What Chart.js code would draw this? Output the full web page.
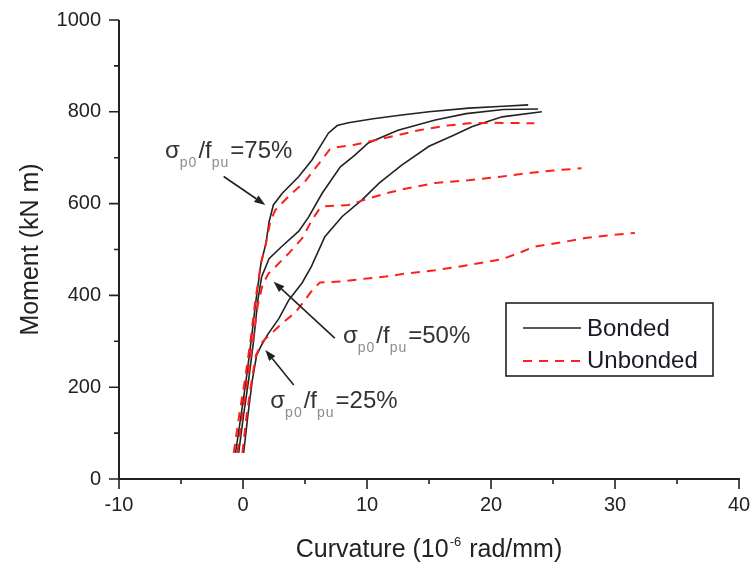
<!DOCTYPE html>
<html>
<head>
<meta charset="utf-8">
<script src="https://cdn.jsdelivr.net/npm/chart.js@4/dist/chart.umd.min.js"></script>
<style>
  html, body { margin: 0; padding: 0; background: #ffffff; }
  #wrap { width: 750px; height: 563px; }
</style>
</head>
<body>
<div id="wrap"><canvas id="c" width="750" height="563"></canvas></div>
<script>
// Moment-curvature response for three prestress levels (sigma_p0 / f_pu)
const curvBonded75 = [-0.6, -0.15, 0.25, 0.65, 1.05, 1.45, 1.85, 2.1, 2.45, 3.15, 4.5, 5.56, 6.3, 6.9, 7.6, 8.5, 10.5, 12.8, 15, 18.2, 21, 23];
const momBonded75  = [57, 140, 215, 300, 390, 470, 513, 560, 597, 622, 659, 695, 728, 754, 770, 776, 785, 793, 800, 808, 812, 815];

const curvBonded50 = [-0.35, 0.05, 0.45, 0.85, 1.2, 1.5, 2.1, 3.1, 4.5, 5.3, 6.37, 7.85, 9.0, 10.1, 12.5, 15.5, 18, 21, 23.8];
const momBonded50  = [57, 140, 215, 300, 390, 440, 480, 506, 540, 571, 622, 680, 705, 732, 760, 782, 796, 805, 806];

const curvBonded25 = [0.05, 0.4, 0.75, 1.1, 1.5, 2.0, 2.9, 3.7, 4.76, 5.5, 6.6, 8.0, 9.6, 11, 12.8, 15, 16.9, 18.5, 20.9, 24.1];
const momBonded25  = [57, 140, 215, 270, 292, 315, 350, 390, 427, 462, 528, 572, 608, 645, 684, 725, 748, 768, 789, 800];

const curvUnbonded75 = [-0.75, -0.3, 0.15, 0.6, 1.0, 1.45, 1.85, 2.2, 2.6, 3.8, 5.0, 6.2, 7.0, 7.4, 9.0, 11, 14.2, 16.5, 18.2, 20, 23.5];
const momUnbonded75  = [57, 140, 215, 300, 390, 470, 513, 560, 586, 619, 648, 690, 718, 722, 728, 740, 760, 770, 775, 776, 775];

const curvUnbonded50 = [-0.45, -0.05, 0.35, 0.8, 1.2, 1.6, 2.07, 2.6, 3.7, 4.76, 5.56, 6.2, 6.6, 8.5, 10, 11.5, 13, 15.5, 18.2, 20.9, 22.8, 25, 27.3];
const momUnbonded50  = [57, 140, 215, 300, 380, 425, 448, 462, 492, 524, 564, 590, 594, 597, 610, 622, 632, 645, 651, 659, 666, 672, 677];

const curvUnbonded25 = [-0.05, 0.3, 0.7, 1.05, 1.6, 2.6, 3.4, 4.2, 5.0, 5.6, 6.2, 8.2, 10, 11.5, 13, 15.5, 18.2, 20.9, 22.5, 23.5, 26, 27.6, 29.5, 31.6];
const momUnbonded25  = [57, 140, 215, 270, 300, 325, 345, 362, 390, 412, 428, 431, 437, 441, 447, 455, 466, 479, 495, 506, 517, 525, 531, 536];

// Axis ranges and tick values
const xMin = -10, xMax = 40, xStep = 10, xMinorTicks = [-5, 5, 15, 25, 35];
const yMin = 0, yMax = 1000, yStep = 200, yMinorTicks = [100, 300, 500, 700, 900];

const seriesNames = ['Bonded', 'Unbonded'];
const ratioLabels = ['75', '50', '25'];
// Label anchors (curvature, moment) and arrow start / tip for each prestress ratio
const labelAnchorCurv = [-6.29, 8.06, 2.2];
const labelAnchorMom  = [699, 296, 155];
const arrowFromCurv = [-1.56, 7.4, 4.09];
const arrowFromMom  = [659, 307, 205];
const arrowToCurv   = [1.8, 2.47, 1.8];
const arrowToMom    = [597, 430, 281];

const INK = '#222222';
const RED = '#ff1e1e';
const FONT = '"Liberation Sans", Arial, sans-serif';

function pairs(xs, ys) { return xs.map((x, i) => ({ x: x, y: ys[i] })); }

function bondedSet(xs, ys) {
  return { data: pairs(xs, ys), showLine: true, borderColor: INK, borderWidth: 1.6,
           pointRadius: 0, tension: 0, fill: false, order: 2 };
}
function unbondedSet(xs, ys) {
  return { data: pairs(xs, ys), showLine: true, borderColor: RED, borderWidth: 2,
           borderDash: [9, 7], pointRadius: 0, tension: 0, fill: false, order: 1 };
}

function drawArrow(ctx, x1, y1, x2, y2) {
  const ang = Math.atan2(y2 - y1, x2 - x1);
  const L = 11, W = 4;
  ctx.save();
  ctx.strokeStyle = INK; ctx.fillStyle = INK; ctx.lineWidth = 1.6;
  ctx.beginPath();
  ctx.moveTo(x1, y1);
  ctx.lineTo(x2 - L * Math.cos(ang), y2 - L * Math.sin(ang));
  ctx.stroke();
  ctx.beginPath();
  ctx.moveTo(x2, y2);
  ctx.lineTo(x2 - L * Math.cos(ang) + W * Math.sin(ang), y2 - L * Math.sin(ang) - W * Math.cos(ang));
  ctx.lineTo(x2 - L * Math.cos(ang) - W * Math.sin(ang), y2 - L * Math.sin(ang) + W * Math.cos(ang));
  ctx.closePath();
  ctx.fill();
  ctx.restore();
}

function drawRatioText(ctx, x, y, pct) {
  const parts = [
    ['\u03C3', false], ['p0', true], ['/f', false], ['pu', true], ['=' + pct + '%', false]
  ];
  ctx.save();
  ctx.textBaseline = 'alphabetic';
  ctx.textAlign = 'left';
  let cx = x;
  parts.forEach(([t, sub]) => {
    if (sub) {
      ctx.font = '14px ' + FONT;
      ctx.fillStyle = '#8c8c8c';
      ctx.letterSpacing = '1px';
      ctx.fillText(t, cx, y + 9);
    } else {
      ctx.font = '24px ' + FONT;
      ctx.fillStyle = '#333333';
      ctx.letterSpacing = '0px';
      ctx.fillText(t, cx, y);
    }
    cx += ctx.measureText(t).width + (sub ? 1 : 0);
  });
  ctx.restore();
}

const decorations = {
  id: 'decorations',
  afterDraw(chart) {
    const { ctx, chartArea: a, scales: { x, y } } = chart;
    ctx.save();

    // axis lines
    ctx.strokeStyle = INK; ctx.lineWidth = 2;
    ctx.beginPath();
    ctx.moveTo(a.left, a.top); ctx.lineTo(a.left, a.bottom); ctx.lineTo(a.right + 1, a.bottom);
    ctx.stroke();

    // major and minor tick marks (outside)
    ctx.lineWidth = 1.6;
    ctx.beginPath();
    for (let v = xMin; v <= xMax; v += xStep) {
      const px = x.getPixelForValue(v);
      ctx.moveTo(px, a.bottom); ctx.lineTo(px, a.bottom + 10);
    }
    xMinorTicks.forEach(v => {
      const px = x.getPixelForValue(v);
      ctx.moveTo(px, a.bottom); ctx.lineTo(px, a.bottom + 5);
    });
    for (let v = yMin; v <= yMax; v += yStep) {
      const py = y.getPixelForValue(v);
      ctx.moveTo(a.left, py); ctx.lineTo(a.left - 10, py);
    }
    yMinorTicks.forEach(v => {
      const py = y.getPixelForValue(v);
      ctx.moveTo(a.left, py); ctx.lineTo(a.left - 5, py);
    });
    ctx.stroke();

    // axis titles
    ctx.fillStyle = INK;
    ctx.font = '25px ' + FONT;
    ctx.textBaseline = 'middle';
    ctx.textAlign = 'center';
    ctx.save();
    ctx.translate(31, (a.top + a.bottom) / 2);
    ctx.rotate(-Math.PI / 2);
    ctx.fillText('Moment (kN m)', 0, 0);
    ctx.restore();

    const t1 = 'Curvature (10', sup = '-6', t2 = ' rad/mm)';
    ctx.font = '25px ' + FONT;
    const w1 = ctx.measureText(t1).width, w3 = ctx.measureText(t2).width;
    ctx.font = '13px ' + FONT;
    const w2 = ctx.measureText(sup).width + 2;
    let sx = (a.left + a.right) / 2 - (w1 + w2 + w3) / 2;
    const base = 557;
    ctx.textAlign = 'left'; ctx.textBaseline = 'alphabetic';
    ctx.font = '25px ' + FONT; ctx.fillText(t1, sx, base); sx += w1;
    ctx.font = '13px ' + FONT; ctx.fillText(sup, sx + 1, base - 11); sx += w2;
    ctx.font = '25px ' + FONT; ctx.fillText(t2, sx, base);

    // prestress ratio labels with arrows
    ratioLabels.forEach((p, i) => {
      drawArrow(ctx,
        x.getPixelForValue(arrowFromCurv[i]), y.getPixelForValue(arrowFromMom[i]),
        x.getPixelForValue(arrowToCurv[i]), y.getPixelForValue(arrowToMom[i]));
      drawRatioText(ctx, x.getPixelForValue(labelAnchorCurv[i]), y.getPixelForValue(labelAnchorMom[i]), p);
    });

    // legend box
    const bx = a.right - 233, by = a.top + 283, bw = 207, bh = 73;
    ctx.strokeStyle = INK; ctx.lineWidth = 1.6;
    ctx.strokeRect(bx, by, bw, bh);
    ctx.beginPath();
    ctx.lineWidth = 1.6; ctx.strokeStyle = INK;
    ctx.moveTo(bx + 17, by + 25); ctx.lineTo(bx + 75, by + 25);
    ctx.stroke();
    ctx.beginPath();
    ctx.lineWidth = 2; ctx.strokeStyle = RED; ctx.setLineDash([9, 7]);
    ctx.moveTo(bx + 17, by + 58); ctx.lineTo(bx + 75, by + 58);
    ctx.stroke();
    ctx.setLineDash([]);
    ctx.fillStyle = '#1a1a26';
    ctx.font = '24px ' + FONT;
    ctx.textBaseline = 'middle';
    ctx.fillText(seriesNames[0], bx + 81, by + 26);
    ctx.fillText(seriesNames[1], bx + 81, by + 58);

    ctx.restore();
  }
};

new Chart(document.getElementById('c'), {
  type: 'scatter',
  data: {
    datasets: [
      bondedSet(curvBonded75, momBonded75),
      bondedSet(curvBonded50, momBonded50),
      bondedSet(curvBonded25, momBonded25),
      unbondedSet(curvUnbonded75, momUnbonded75),
      unbondedSet(curvUnbonded50, momUnbonded50),
      unbondedSet(curvUnbonded25, momUnbonded25)
    ]
  },
  options: {
    responsive: false,
    animation: false,
    layout: { padding: { top: 20, right: 11, left: 0, bottom: 0 } },
    plugins: { legend: { display: false }, tooltip: { enabled: false } },
    scales: {
      x: {
        type: 'linear', min: xMin, max: xMax,
        ticks: { stepSize: xStep, padding: 14, color: INK, font: { family: FONT, size: 20 },
                 callback: v => String(v) },
        grid: { display: false, drawTicks: false },
        border: { display: false },
        afterFit(s) { s.height = 84; s.paddingLeft = 0; s.paddingRight = 0; }
      },
      y: {
        type: 'linear', min: yMin, max: yMax,
        ticks: { stepSize: yStep, padding: 18, color: INK, font: { family: FONT, size: 20 },
                 callback: v => String(v) },
        grid: { display: false, drawTicks: false },
        border: { display: false },
        afterFit(s) { s.width = 119; s.paddingTop = 0; s.paddingBottom = 0; }
      }
    }
  },
  plugins: [decorations]
});
</script>
</body>
</html>
